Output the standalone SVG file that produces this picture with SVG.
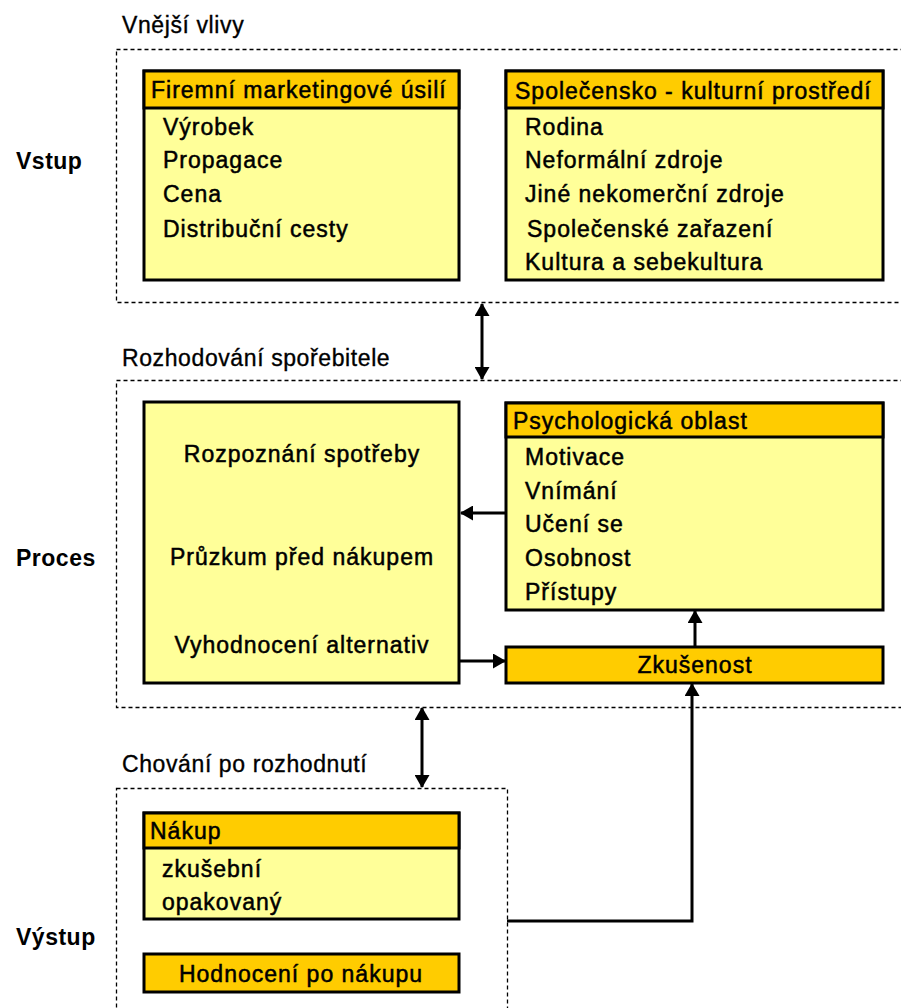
<svg xmlns="http://www.w3.org/2000/svg" width="901" height="1008" viewBox="0 0 901 1008">
<style>
  text { font-family: "Liberation Sans", Arial, sans-serif; fill: #000; }
  .t { font-size: 23px; letter-spacing: 1px; stroke: #000; stroke-width: 0.5px; }
  .lbl { font-size: 23px; letter-spacing: 0.6px; stroke: #000; stroke-width: 0.35px; }
  .side { font-size: 23px; font-weight: bold; letter-spacing: 0.5px; }
  .mid { text-anchor: middle; }
  .dash { fill: none; stroke: #000; stroke-width: 1.3; stroke-dasharray: 4 3; }
  .body { fill: #FFFF99; stroke: #000; stroke-width: 3; }
  .head { fill: #FFCC00; stroke: #000; stroke-width: 3; }
  .conn { fill: none; stroke: #000; stroke-width: 3; }
</style>
<defs>
  <marker id="ah" viewBox="0 0 13 15" refX="12" refY="7.5" markerWidth="13" markerHeight="15" markerUnits="userSpaceOnUse" orient="auto-start-reverse">
    <path d="M0,0 L13,7.5 L0,15 z" fill="#000"/>
  </marker>
</defs>
<rect width="901" height="1008" fill="#fff"/>

<g id="zone-vnejsi">
  <text class="lbl" x="122" y="33">Vnější vlivy</text>
  <rect class="dash" x="116.5" y="49.5" width="800" height="253"/>
  <text class="side" x="16" y="169">Vstup</text>
</g>
<g id="zone-rozhodovani">
  <text class="lbl" x="122" y="366">Rozhodování spořebitele</text>
  <rect class="dash" x="116.5" y="380.5" width="800" height="327"/>
  <text class="side" x="16" y="566">Proces</text>
</g>
<g id="zone-chovani">
  <text class="lbl" x="122" y="772">Chování po rozhodnutí</text>
  <rect class="dash" x="116.5" y="788.5" width="391" height="240"/>
  <text class="side" x="16" y="945">Výstup</text>
</g>

<g id="node-firemni">
  <rect class="body" x="144" y="71" width="315" height="209"/>
  <rect class="head" x="144" y="71" width="315" height="37"/>
  <text class="t" x="151" y="98">Firemní marketingové úsilí</text>
  <text class="t" x="163" y="135">Výrobek</text>
  <text class="t" x="163" y="168">Propagace</text>
  <text class="t" x="163" y="202">Cena</text>
  <text class="t" x="163" y="237">Distribuční cesty</text>
</g>

<g id="node-spolecensko">
  <rect class="body" x="506" y="71" width="377" height="209"/>
  <rect class="head" x="506" y="71" width="377" height="37"/>
  <text class="t" x="515" y="99">Společensko - kulturní prostředí</text>
  <text class="t" x="525" y="135">Rodina</text>
  <text class="t" x="525" y="168">Neformální zdroje</text>
  <text class="t" x="525" y="202">Jiné nekomerční zdroje</text>
  <text class="t" x="527" y="237">Společenské zařazení</text>
  <text class="t" x="525" y="270">Kultura a sebekultura</text>
</g>

<g id="node-proces">
  <rect class="body" x="144" y="402" width="315" height="281"/>
  <text class="t mid" x="302" y="462">Rozpoznání spotřeby</text>
  <text class="t mid" x="302" y="565">Průzkum před nákupem</text>
  <text class="t mid" x="302" y="653">Vyhodnocení alternativ</text>
</g>

<g id="node-psych">
  <rect class="body" x="506" y="403" width="377" height="207"/>
  <rect class="head" x="506" y="403" width="377" height="34"/>
  <text class="t" x="513" y="429">Psychologická oblast</text>
  <text class="t" x="525" y="465">Motivace</text>
  <text class="t" x="525" y="499">Vnímání</text>
  <text class="t" x="525" y="532">Učení se</text>
  <text class="t" x="525" y="566">Osobnost</text>
  <text class="t" x="525" y="600">Přístupy</text>
</g>

<g id="node-zkusenost">
  <rect class="head" x="506" y="647" width="377" height="36"/>
  <text class="t mid" x="695" y="673">Zkušenost</text>
</g>

<g id="node-nakup">
  <rect class="body" x="144" y="813" width="315" height="106"/>
  <rect class="head" x="144" y="813" width="315" height="35"/>
  <text class="t" x="150" y="839">Nákup</text>
  <text class="t" x="162" y="877">zkušební</text>
  <text class="t" x="162" y="910">opakovaný</text>
</g>

<g id="node-hodnoceni">
  <rect class="head" x="144" y="954" width="315" height="38"/>
  <text class="t mid" x="301" y="982">Hodnocení po nákupu</text>
</g>

<g id="connectors">
  <path class="conn" d="M482,304 V379" marker-start="url(#ah)" marker-end="url(#ah)"/>
  <path class="conn" d="M422,708 V787" marker-start="url(#ah)" marker-end="url(#ah)"/>
  <path class="conn" d="M506,513 H461" marker-end="url(#ah)"/>
  <path class="conn" d="M459,661 H505" marker-end="url(#ah)"/>
  <path class="conn" d="M695,646 V611" marker-end="url(#ah)"/>
  <path class="conn" d="M507,921 H692 V684" marker-end="url(#ah)"/>
</g>
</svg>
